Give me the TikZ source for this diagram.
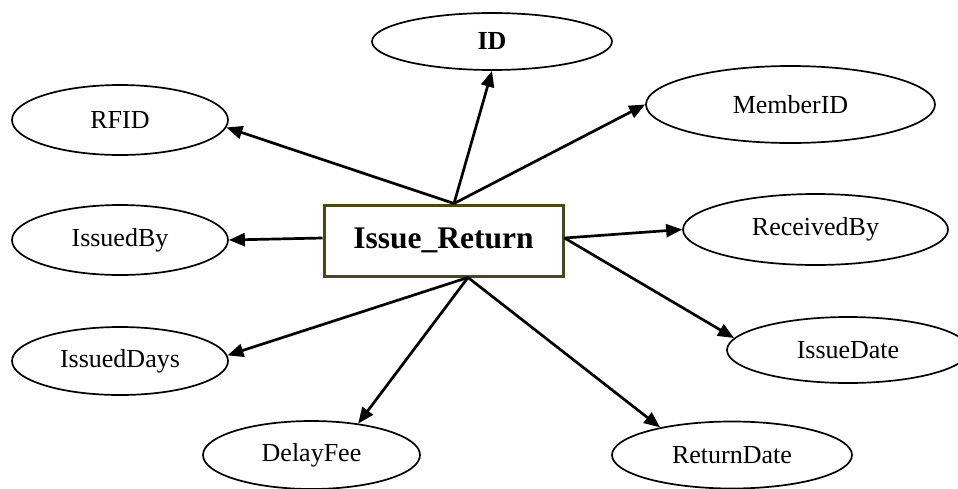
\documentclass[tikz,border=0pt]{standalone}
\usepackage{fontspec}
\setmainfont{Liberation Serif}
\usetikzlibrary{shapes.geometric,arrows.meta}
\definecolor{boxedge}{HTML}{4A4818}
\tikzset{
  attr/.style={ellipse, draw=black, line width=1.7pt, inner sep=0pt,
    font=\fontsize{26}{30}\selectfont},
  entity/.style={rectangle, draw=boxedge, line width=3pt, inner sep=0pt,
    minimum width=239pt, minimum height=71pt,
    font=\bfseries\fontsize{31.5}{36}\selectfont},
  link/.style={line width=2.7pt, -{Triangle[length=16pt,width=13pt]}}
}
\begin{document}
\begin{tikzpicture}[x=1pt,y=-1pt]
\useasboundingbox (0,0) rectangle (958,488);
\begin{scope}
\clip (0,0) rectangle (958,488);
% central entity
\node[entity] (box) at (443.5,240.5) {Issue\_Return};
% attributes
\node[attr, minimum width=240pt, minimum height=57pt] (id) at (492,41.5) {\textbf{ID}};
\node[attr, minimum width=216pt, minimum height=70pt] (rfid) at (120,120) {RFID};
\node[attr, minimum width=289pt, minimum height=77pt] (member) at (790.5,104.5) {MemberID};
\node[attr, minimum width=216pt, minimum height=70pt] (issby) at (120,240) {IssuedBy};
\node[attr, minimum width=265pt, minimum height=71pt] (recby) at (815.5,229.5) {ReceivedBy};
\node[attr, minimum width=216pt, minimum height=68pt] (days) at (120,361) {IssuedDays};
\node[attr, minimum width=242pt, minimum height=66pt] (idate) at (848,350) {IssueDate};
\node[attr, minimum width=217pt, minimum height=68pt] (fee) at (311.5,455) {DelayFee};
\node[attr, minimum width=240pt, minimum height=67pt] (rdate) at (732,455) {ReturnDate};
% points on the entity box where the connectors leave
\coordinate (bt) at ([xshift=10.5pt]box.north);
\coordinate (bb) at ([xshift=24.5pt]box.south);
\coordinate (bl) at ([yshift=2.5pt]box.west);
\coordinate (br) at ([yshift=2.5pt]box.east);
% connectors
\draw[link] (bt) -- (rfid.-4);
\draw[link] (bt) -- (id.south);
\draw[link] (bt) -- (member.west);
\draw[link] (bl) -- (issby.east);
\draw[link] (br) -- (recby.west);
\draw[link] (br) -- (idate.174);
\draw[link] (bb) -- (days.3);
\draw[link] (bb) -- (fee.34);
\draw[link] (bb) -- (rdate.159);
\end{scope}
\end{tikzpicture}
\end{document}
